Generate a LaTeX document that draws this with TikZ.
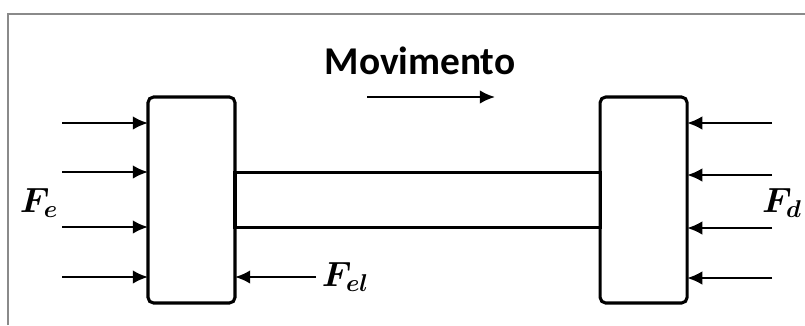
\documentclass[tikz,border=0pt]{standalone}
\usepackage{amsmath}
\usepackage{fontspec}
\newfontfamily\titlefont{Carlito}
\usetikzlibrary{arrows.meta,positioning}
\definecolor{framegray}{HTML}{8A8A8A}
\tikzset{
  block/.style={draw,line width=2.2pt,rounded corners=4pt,outer sep=0pt,inner sep=0pt,
    minimum width=2.175cm,minimum height=5.15cm},
  rod/.style={draw,line width=2.2pt,outer sep=0pt,inner sep=0pt,
    minimum width=9.125cm,minimum height=1.375cm},
  force/.style={line width=1.6pt,-{Latex[length=3.8mm,width=3.4mm]}},
  flabel/.style={font=\fontsize{25}{30}\selectfont\boldmath,inner sep=0pt}
}

\begin{document}
\begin{tikzpicture}[x=0.025cm,y=-0.025cm]
  \useasboundingbox (0,0) rectangle (805,325);
  \draw[framegray,line width=1.5pt] (8,325) -- (8,14) -- (805,14);
  % blocks and rod
  \node[block] (lblock) at (191.5,200) {};
  \node[rod,right=0pt of lblock] (rod) {};
  \node[block,right=0pt of rod] (rblock) {};
  % motion
  \node[font=\titlefont\bfseries\fontsize{28}{32}\selectfont] (mov) at (420,61) {Movimento};
  \coordinate (mv1) at (367,97); \coordinate (mv2) at (495,97);
  \draw[force] (mv1) -- (mv2);
  % forces on the left block
  \coordinate (le1) at (62,123); \coordinate (le2) at (62,172);
  \coordinate (le3) at (62,227); \coordinate (le4) at (62,277);
  \draw[force] (le1) -- (le1 -| lblock.west);
  \draw[force] (le2) -- (le2 -| lblock.west);
  \draw[force] (le3) -- (le3 -| lblock.west);
  \draw[force] (le4) -- (le4 -| lblock.west);
  \node[flabel] (fe) at (39,203) {$F_e$};
  % forces on the right block
  \coordinate (ri1) at (772,123); \coordinate (ri2) at (772,175);
  \coordinate (ri3) at (772,228); \coordinate (ri4) at (772,278);
  \draw[force] (ri1) -- (ri1 -| rblock.east);
  \draw[force] (ri2) -- (ri2 -| rblock.east);
  \draw[force] (ri3) -- (ri3 -| rblock.east);
  \draw[force] (ri4) -- (ri4 -| rblock.east);
  \node[flabel,anchor=east] (fd) at (802,203) {$F_d$};
  % elastic force
  \coordinate (el) at (316,277);
  \draw[force] (el) -- (el -| lblock.east);
  \node[flabel,right=4pt of el] (fel) {$F_{el}$};
\end{tikzpicture}
\end{document}
